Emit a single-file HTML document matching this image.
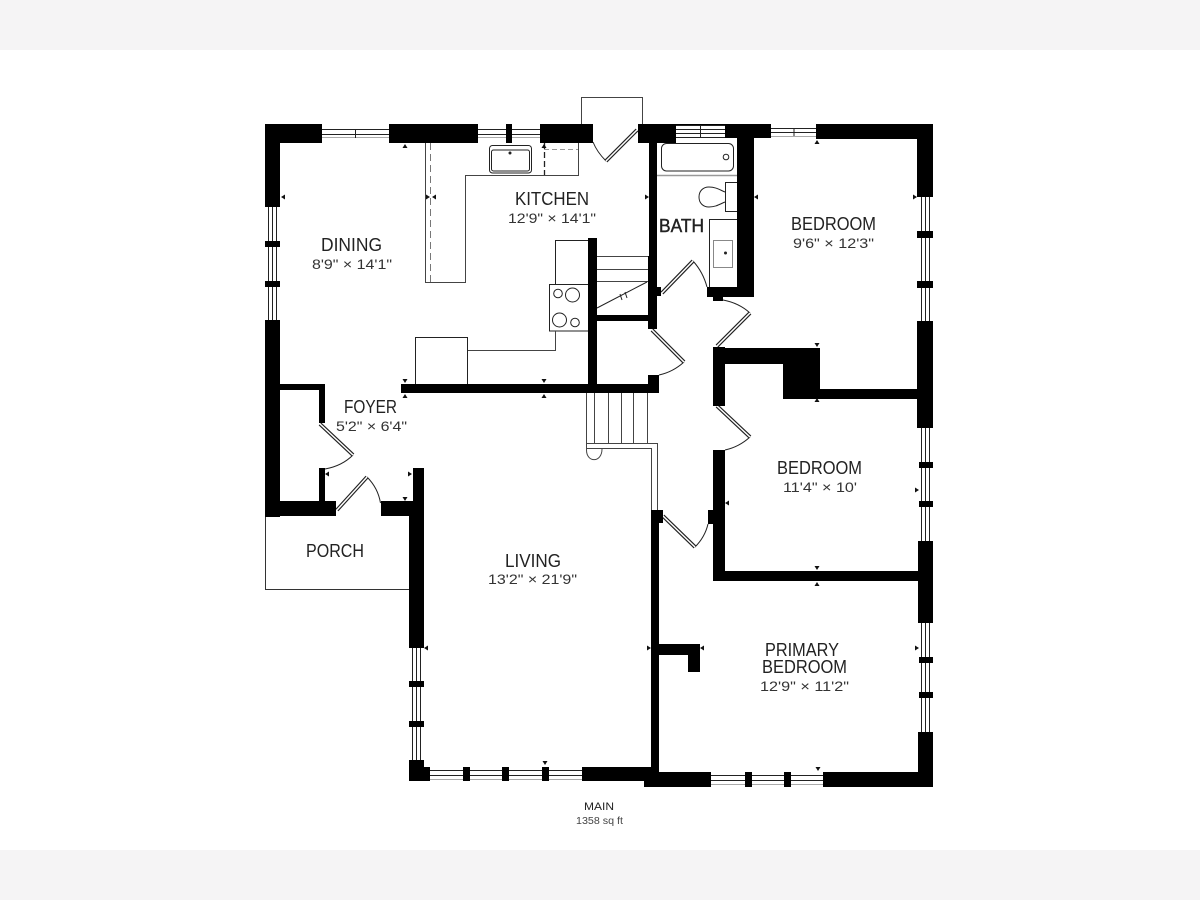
<!DOCTYPE html>
<html><head><meta charset="utf-8"><style>
html,body{margin:0;padding:0;background:#fff}
svg{display:block}
text{font-family:"Liberation Sans",sans-serif;fill:#222}
.l{font-size:18px}
.d{font-size:14px;fill:#333}
</style></head><body>
<svg width="1200" height="900" viewBox="0 0 1200 900" xmlns="http://www.w3.org/2000/svg">
<rect width="1200" height="900" fill="#fff"/>
<rect width="1200" height="50" fill="#f5f4f5"/>
<rect y="850" width="1200" height="50" fill="#f5f4f5"/>

<!-- thin fixtures -->
<g fill="none" stroke="#222" stroke-width="1">
<!-- kitchen counter -->
<path d="M425.500 143V282.500H465.500V175.500H578.500V143" stroke="#444"/>
<path d="M430.500 143V282" stroke="#777" stroke-dasharray="7 4"/>
<path d="M544.500 143V175" stroke-dasharray="6 3" stroke-width="1.300"/>
<path d="M544 149.500H578" stroke="#999" stroke-dasharray="5 3"/>
<rect x="489.500" y="145.500" width="42" height="27.500" rx="3"/>
<rect x="491.500" y="150" width="38" height="21" rx="2"/>
<circle cx="510" cy="153" r="1" fill="#222"/>
<!-- range -->
<path d="M555.500 284V240.500H590"/>
<rect x="549.500" y="284.500" width="39" height="46.500"/>
<circle cx="558" cy="293.500" r="4.300"/><circle cx="572.500" cy="295" r="7"/>
<circle cx="559.500" cy="320" r="7"/><circle cx="575" cy="322.500" r="4.300"/>
<path d="M555.500 331V350.500H468" stroke="#444"/>
<rect x="415.500" y="337.500" width="52" height="47"/>
<!-- top door box -->
<path d="M581.500 124V97.500H642.500V124" stroke="#444"/>
<!-- porch -->
<path d="M265.500 516V589.500H409" stroke="#333"/>
<!-- bath -->
<rect x="661.500" y="143.500" width="72" height="27.500" rx="5"/>
<circle cx="726" cy="157" r="2.800"/>
<path d="M657 175.500H737" stroke="#999" stroke-width="1.400"/>
<rect x="725.500" y="182.500" width="12" height="29"/>
<path d="M725 192C720 190 716 187 709 187C703 187 699 191 699 197C699 203 703 207 709 207C716 207 720 204 725 202"/>
<path d="M737 219.500H709.500V287"/>
<rect x="713.500" y="240.500" width="19" height="27" stroke="#888"/>
<circle cx="725.500" cy="253" r="1" fill="#222"/>
<!-- kitchen stairs -->
<path d="M597 256.500H648M597 269.500H648M597 281.500H648" stroke="#444"/>
<path d="M597 308L647 282M620 294l2 6M625 292l2 6" stroke-width="1"/>
<!-- living stairs -->
<path d="M586.500 393V443.500M594.500 393V443M608.500 393V443M621.500 393V443M633.500 393V443M647.500 393V443" stroke="#444"/>
<path d="M586.500 443.500H657.500V510M586.500 448.500H651.500V510" stroke="#444"/>
<path d="M586.500 443V450C586.500 463 602 463 602 449" stroke="#444"/>
<!-- door arcs -->
<path d="M593 142Q597 152 606 161"/>
<path d="M693 261Q703 272 707 287"/>
<path d="M723 300Q739 303 750 313"/>
<path d="M684 362Q673 372 659 375"/>
<path d="M750 437Q739 447 725 450"/>
<path d="M695 547Q705 537 708 524"/>
<path d="M353 455Q342 466 325 469"/>
<path d="M367 477Q378 488 380.500 503"/>
</g>

<!-- door leaves -->
<g fill="none">
<g stroke="#222" stroke-width="3.800">
<path d="M637 130L606 161M662 293L693 261M750 313L717 346M652 330L684 362M717 406L750 437M663 516L695 547M320 424L353 455M337 510L367 477"/>
</g>
<g stroke="#fff" stroke-width="1.500">
<path d="M637 130L606 161M662 293L693 261M750 313L717 346M652 330L684 362M717 406L750 437M663 516L695 547M320 424L353 455M337 510L367 477"/>
</g>
</g>

<!-- windows -->
<g stroke="#222" stroke-width="1" fill="none">
<path d="M322 129.500H389M322 134.500H389M478 129.500H540M478 134.500H540"/>
<path d="M322 137.500H389M478 137.500H540" stroke="#aaa"/>
<path d="M355.500 129V138"/>
<path d="M676 125.500H725M676 129.500H725M676 133.500H725M676 137.500H725M700.500 125V137"/>
<path d="M771 128.500H816M771 132.500H816M794 128V136"/>
<path d="M771 136.500H816" stroke="#aaa"/>
<path d="M268.500 207V320M272.500 207V320M276.500 207V320"/>
<path d="M921.500 197V321M925.500 197V321M929.500 197V321"/>
<path d="M921.500 428V541M925.500 428V541M929.500 428V541"/>
<path d="M921.500 623V732M925.500 623V732M929.500 623V732"/>
<path d="M412.500 648V760M416.500 648V760M420.500 648V760"/>
<path d="M430 770.500H582M430 775.500H582"/>
<path d="M430 779.500H582" stroke="#aaa"/>
<path d="M711 775.500H823M711 780.500H823"/>
<path d="M711 784.500H823" stroke="#aaa"/>
</g>

<!-- walls -->
<g fill="#000">
<rect x="265" y="124" width="57" height="19"/>
<rect x="265" y="124" width="15" height="83"/>
<rect x="265" y="241" width="15" height="6"/>
<rect x="265" y="281" width="15" height="6"/>
<rect x="265" y="320" width="15" height="197"/>
<rect x="389" y="124" width="89" height="19"/>
<rect x="506" y="124" width="6" height="19"/>
<rect x="540" y="124" width="53" height="19"/>
<rect x="638" y="124" width="38" height="19"/>
<rect x="676" y="124" width="49" height="1"/>
<rect x="725" y="124" width="46" height="14"/>
<rect x="816" y="124" width="117" height="15"/>
<rect x="917" y="124" width="16" height="73"/>
<rect x="917" y="231" width="16" height="7"/>
<rect x="917" y="281" width="16" height="7"/>
<rect x="917" y="321" width="16" height="107"/>
<rect x="919" y="462" width="14" height="6"/>
<rect x="919" y="501" width="14" height="6"/>
<rect x="918" y="541" width="15" height="82"/>
<rect x="919" y="657" width="14" height="6"/>
<rect x="919" y="692" width="14" height="6"/>
<rect x="918" y="732" width="15" height="55"/>
<!-- bath walls -->
<rect x="737" y="130" width="17" height="167"/>
<rect x="707" y="287" width="47" height="10"/>
<rect x="713" y="297" width="10" height="4"/>
<rect x="649" y="143" width="8" height="186"/>
<rect x="648" y="256" width="9" height="73"/>
<rect x="657" y="287" width="4" height="9"/>
<!-- stair walls -->
<rect x="588" y="238" width="9" height="152"/>
<rect x="597" y="315" width="52" height="6"/>
<rect x="401" y="384" width="258" height="9"/>
<rect x="648" y="375" width="11" height="18"/>
<!-- bedroom 2 walls -->
<rect x="713" y="347" width="12" height="59"/>
<rect x="713" y="348" width="107" height="16"/>
<rect x="783" y="348" width="37" height="51"/>
<rect x="783" y="389" width="137" height="10"/>
<rect x="713" y="450" width="12" height="131"/>
<rect x="708" y="510" width="6" height="14"/>
<rect x="713" y="571" width="206" height="10"/>
<!-- centre wall -->
<rect x="651" y="510" width="8" height="262"/>
<rect x="651" y="510" width="12" height="13"/>
<rect x="659" y="644" width="41" height="11"/>
<rect x="688" y="644" width="12" height="28"/>
<!-- foyer -->
<rect x="280" y="384" width="45" height="6"/>
<rect x="319" y="384" width="6" height="39"/>
<rect x="319" y="468" width="6" height="34"/>
<rect x="265" y="501" width="71" height="15"/>
<rect x="381" y="501" width="32" height="15"/>
<rect x="413" y="468" width="11" height="40"/>
<rect x="409" y="501" width="15" height="147"/>
<rect x="409" y="681" width="15" height="6"/>
<rect x="409" y="721" width="15" height="6"/>
<!-- bottom -->
<rect x="409" y="760" width="15" height="21"/>
<rect x="409" y="767" width="21" height="14"/>
<rect x="463" y="767" width="7" height="14"/>
<rect x="502" y="767" width="7" height="14"/>
<rect x="542" y="767" width="7" height="14"/>
<rect x="582" y="767" width="70" height="14"/>
<rect x="644" y="772" width="67" height="15"/>
<rect x="745" y="772" width="7" height="15"/>
<rect x="784" y="772" width="7" height="15"/>
<rect x="823" y="772" width="110" height="15"/>
</g>

<!-- dimension arrows -->
<g fill="#111">
<path d="M405 144l-2.500 4h5zM544 144l-2.500 4h5zM817 140l-2.500 4h5zM405 394l-2.500 4h5zM544 394l-2.500 4h5zM817 398l-2.500 4h5zM817 582l-2.500 4h5z"/>
<path d="M405 383l-2.500-4h5zM544 383l-2.500-4h5zM405 501l-2.500-4h5zM817 347l-2.500-4h5zM817 570l-2.500-4h5zM545 765l-2.500-4h5zM818 771l-2.500-4h5z"/>
<path d="M281 197l4-2.500v5zM432 197l4-2.500v5zM754 197l4-2.500v5zM725 503l4-2.500v5zM325 474l4-2.500v5zM424 648l4-2.500v5zM700 648l4-2.500v5z"/>
<path d="M430 197l-4-2.500v5zM649 197l-4-2.500v5zM917 197l-4-2.500v5zM919 490l-4-2.500v5zM412 474l-4-2.500v5zM651 648l-4-2.500v5zM919 648l-4-2.500v5z"/>
</g>

<!-- labels -->
<text class="l" x="515" y="205" textLength="74" lengthAdjust="spacingAndGlyphs">KITCHEN</text>
<text class="d" x="508" y="223" textLength="88" lengthAdjust="spacingAndGlyphs">12'9" × 14'1"</text>
<text class="l" x="321" y="251" textLength="61" lengthAdjust="spacingAndGlyphs">DINING</text>
<text class="d" x="312" y="269" textLength="80" lengthAdjust="spacingAndGlyphs">8'9" × 14'1"</text>
<text class="l" x="659" y="232" textLength="45" lengthAdjust="spacingAndGlyphs" style="stroke:#222;stroke-width:.4">BATH</text>
<text class="l" x="791" y="230" textLength="85" lengthAdjust="spacingAndGlyphs">BEDROOM</text>
<text class="d" x="793" y="248" textLength="81" lengthAdjust="spacingAndGlyphs">9'6" × 12'3"</text>
<text class="l" x="344" y="413" textLength="53" lengthAdjust="spacingAndGlyphs">FOYER</text>
<text class="d" x="336" y="431" textLength="71" lengthAdjust="spacingAndGlyphs">5'2" × 6'4"</text>
<text class="l" x="306" y="557" textLength="58" lengthAdjust="spacingAndGlyphs">PORCH</text>
<text class="l" x="505" y="567" textLength="56" lengthAdjust="spacingAndGlyphs">LIVING</text>
<text class="d" x="488" y="584" textLength="89" lengthAdjust="spacingAndGlyphs">13'2" × 21'9"</text>
<text class="l" x="777" y="474" textLength="85" lengthAdjust="spacingAndGlyphs">BEDROOM</text>
<text class="d" x="783" y="492" textLength="74" lengthAdjust="spacingAndGlyphs">11'4" × 10'</text>
<text class="l" x="765" y="656" textLength="74" lengthAdjust="spacingAndGlyphs">PRIMARY</text>
<text class="l" x="762" y="673" textLength="85" lengthAdjust="spacingAndGlyphs">BEDROOM</text>
<text class="d" x="760" y="691" textLength="89" lengthAdjust="spacingAndGlyphs">12'9" × 11'2"</text>
<text x="584" y="810" textLength="30" lengthAdjust="spacingAndGlyphs" style="font-size:11px">MAIN</text>
<text x="576" y="824" textLength="47" lengthAdjust="spacingAndGlyphs" style="font-size:10px;fill:#444">1358 sq ft</text>
</svg>
</body></html>
